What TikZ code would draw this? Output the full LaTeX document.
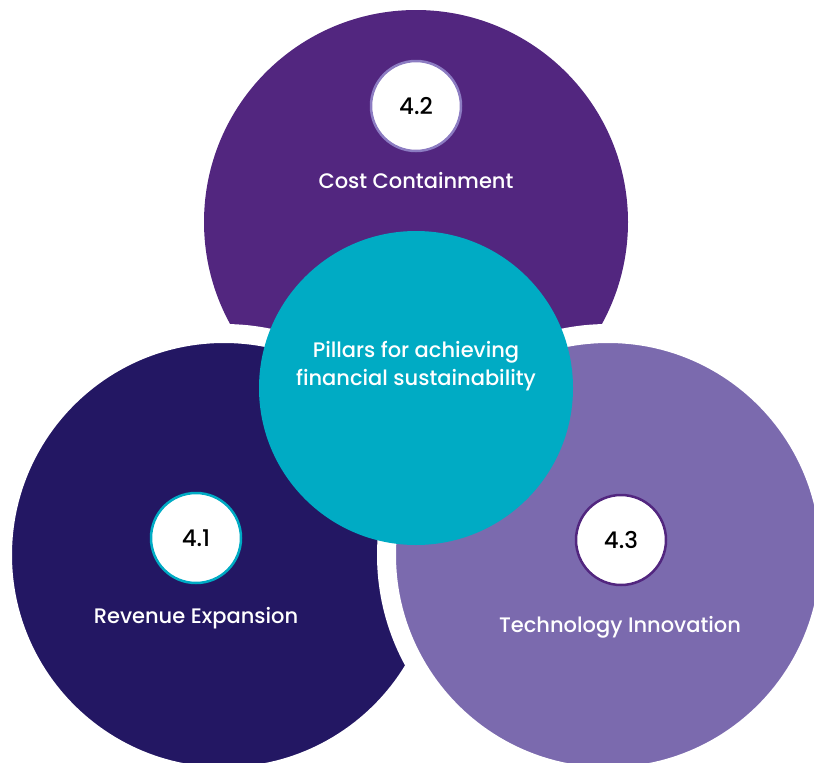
\documentclass[tikz,border=0pt]{standalone}
\usepackage{fontspec}
\IfFontExistsTF{Poppins Medium}{\setmainfont{Poppins Medium}}{\setmainfont{Poppins}}
\definecolor{cpurple}{HTML}{52267F}
\definecolor{cnavy}{HTML}{231763}
\definecolor{clav}{HTML}{7B6AAE}
\definecolor{cteal}{HTML}{00ABC4}
\definecolor{cringlav}{HTML}{8C7CC2}
\begin{document}
\begin{tikzpicture}[x=1pt,y=-1pt,
  pillar/.style={circle,inner sep=0pt,minimum size=443pt,draw=white,line width=19pt},
  hub/.style={circle,inner sep=0pt,minimum size=314pt,fill=cteal},
  badge/.style={circle,inner sep=0pt,minimum size=90pt,fill=white,line width=2.5pt},
  numtxt/.style={font=\fontsize{23}{25}\selectfont,text=black},
  lbl/.style={font=\fontsize{21}{27.5}\selectfont,text=white,anchor=base,align=center}]
\useasboundingbox (0,0) rectangle (814,763);
\clip (0,0) rectangle (814,763);
\node[circle,inner sep=0pt,minimum size=424pt,fill=cpurple] (top) at (416,222) {};
\node[pillar,fill=cnavy] (left) at (224,555) {};
\node[pillar,fill=clav] (right) at (608,555) {};
\node[hub] (hub) at (416,388) {};
\node[badge,draw=cringlav] (b2) at (416,106) {};
\node[badge,draw=cteal] (b1) at (196,538) {};
\node[badge,draw=cpurple] (b3) at (621,540) {};
\node[numtxt] at (b2) {4.2};
\node[numtxt] at (b1) {4.1};
\node[numtxt] at (b3) {4.3};
\node[lbl] (t2) at (416,188) {Cost Containment};
\node[lbl] (t1) at (196,623) {Revenue Expansion};
\node[lbl] (t3) at (620,632) {Technology Innovation};
\node[lbl] (th) at (416,385) {Pillars for achieving\\financial sustainability};
\end{tikzpicture}
\end{document}
